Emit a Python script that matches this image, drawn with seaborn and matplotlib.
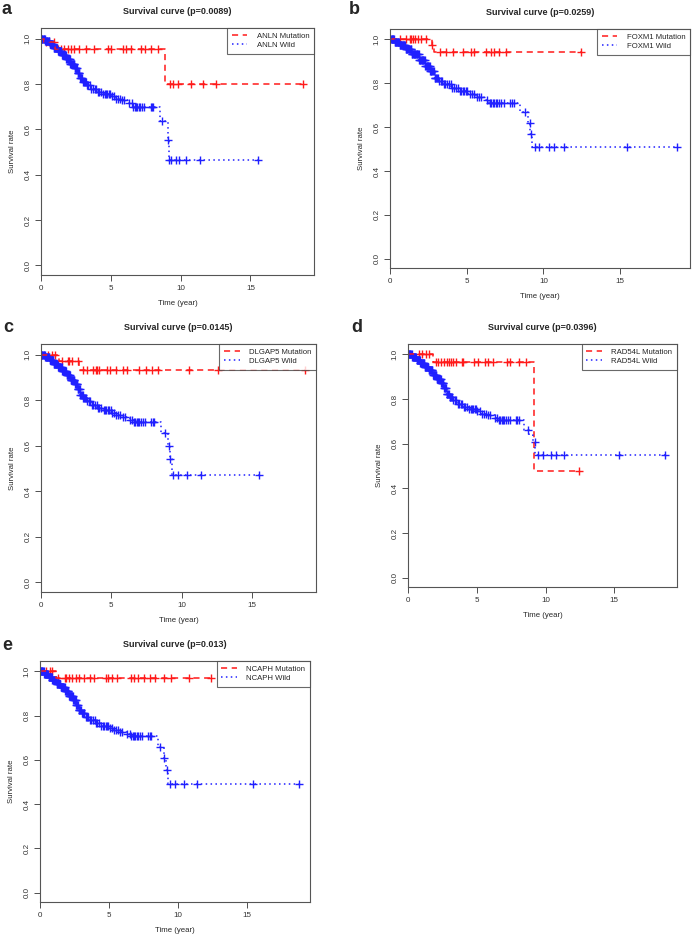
import numpy as np
import pandas as pd
import matplotlib
matplotlib.use('Agg')
import matplotlib.pyplot as plt
import seaborn as sns

sns.set_style('ticks')
plt.rcParams['font.family'] = ['Liberation Sans', 'DejaVu Sans']

# Panel info
letters = ['a', 'b', 'c', 'd', 'e']
genes = ['ANLN', 'FOXM1', 'DLGAP5', 'RAD54L', 'NCAPH']
p_values = ['0.0089', '0.0259', '0.0145', '0.0396', '0.013']

# Wild group: step curves (time in years, survival rate)
wild_t = [
    [0, 0.3, 0.6, 0.9, 1.2, 1.5, 1.8, 2.1, 2.4, 2.6, 2.8, 3.0, 3.3, 3.6, 4.0, 4.4, 5.0, 5.3, 5.8, 6.3, 6.6, 8.5, 9.1, 9.2, 15.55],
    [0, 0.3, 0.6, 1.0, 1.4, 1.9, 2.3, 2.6, 2.9, 3.2, 3.5, 4.0, 4.5, 5.1, 5.6, 6.1, 6.45, 8.5, 9.0, 9.15, 9.25, 18.7],
    [0, 0.3, 0.6, 0.9, 1.2, 1.5, 1.8, 2.1, 2.4, 2.6, 2.8, 3.0, 3.3, 3.6, 4.0, 4.4, 5.0, 5.3, 5.8, 6.3, 6.6, 8.5, 9.0, 9.15, 9.3, 15.5],
    [0, 0.3, 0.6, 0.9, 1.2, 1.5, 1.8, 2.1, 2.4, 2.6, 2.8, 3.0, 3.3, 3.6, 4.0, 4.4, 5.0, 5.3, 5.8, 6.3, 6.6, 8.45, 8.8, 9.1, 9.25, 18.7],
    [0, 0.3, 0.6, 0.9, 1.2, 1.5, 1.8, 2.1, 2.4, 2.6, 2.8, 3.0, 3.3, 3.6, 4.0, 4.4, 5.0, 5.3, 5.8, 6.3, 6.6, 8.55, 8.95, 9.1, 9.25, 18.75],
]
wild_s = [
    [1.0, 0.99, 0.975, 0.96, 0.945, 0.93, 0.91, 0.89, 0.87, 0.85, 0.825, 0.81, 0.795, 0.78, 0.765, 0.755, 0.745, 0.735, 0.728, 0.715, 0.70, 0.636, 0.555, 0.464, 0.464],
    [1.0, 0.99, 0.975, 0.955, 0.935, 0.905, 0.88, 0.855, 0.825, 0.81, 0.795, 0.78, 0.765, 0.75, 0.738, 0.725, 0.71, 0.667, 0.618, 0.57, 0.51, 0.51],
    [1.0, 0.99, 0.975, 0.96, 0.945, 0.93, 0.91, 0.89, 0.87, 0.85, 0.825, 0.81, 0.795, 0.78, 0.765, 0.755, 0.745, 0.735, 0.728, 0.715, 0.705, 0.654, 0.60, 0.54, 0.473, 0.473],
    [1.0, 0.99, 0.975, 0.96, 0.945, 0.93, 0.91, 0.89, 0.87, 0.85, 0.825, 0.81, 0.795, 0.78, 0.765, 0.755, 0.745, 0.735, 0.728, 0.715, 0.708, 0.66, 0.64, 0.61, 0.55, 0.55],
    [1.0, 0.99, 0.975, 0.96, 0.945, 0.93, 0.91, 0.89, 0.87, 0.85, 0.825, 0.81, 0.795, 0.78, 0.765, 0.755, 0.745, 0.735, 0.728, 0.715, 0.707, 0.66, 0.61, 0.555, 0.49, 0.49],
]

# Wild group censor times, shared early part + per-panel late part
wild_cens_early = [0.03, 0.07, 0.1, 0.14, 0.18, 0.22, 0.26, 0.3, 0.34, 0.38, 0.42, 0.46, 0.5, 0.54, 0.58,
                   0.62, 0.66, 0.7, 0.74, 0.78, 0.82, 0.86, 0.9, 0.94, 0.98, 1.02, 1.06, 1.1, 1.14, 1.18,
                   1.22, 1.26, 1.3, 1.34, 1.38, 1.42, 1.46, 1.5, 1.54, 1.58, 1.62, 1.66, 1.7, 1.74, 1.78,
                   1.82, 1.86, 1.9, 1.94, 1.98, 2.02, 2.06, 2.1, 2.14, 2.18, 2.22, 2.26, 2.3, 2.34, 2.38,
                   2.42, 2.46, 2.5, 2.54, 2.58, 2.62, 2.66, 2.7, 2.75, 2.8, 2.85, 2.9, 2.96, 3.02, 3.08,
                   3.15, 3.22, 3.3, 3.4, 3.5, 3.6, 3.72, 3.85, 3.95, 4.05, 4.15, 4.3, 4.45, 4.55, 4.65, 4.75,
                   4.85, 4.95, 5.05, 5.2, 5.35, 5.5, 5.65, 5.8, 5.95, 6.3, 6.5, 6.6, 6.7, 6.8, 6.9, 7.0,
                   7.1, 7.25, 7.4, 7.85, 7.95, 8.05]
wild_cens_late = [
    [8.7, 9.1, 9.2, 9.33, 9.7, 9.88, 10.4, 11.36, 15.55],
    [8.8, 9.1, 9.18, 9.46, 9.72, 10.37, 10.7, 11.35, 15.44, 18.7],
    [8.8, 9.1, 9.2, 9.4, 9.76, 10.4, 11.35, 15.5],
    [8.72, 9.2, 9.45, 9.8, 10.4, 10.77, 11.37, 15.35, 18.7],
    [8.7, 9.0, 9.2, 9.44, 9.8, 10.4, 11.38, 15.45, 18.75],
]

# Mutation group: step curves
mut_t = [
    [0, 0.25, 1.0, 8.9, 18.8],
    [0, 2.75, 2.85, 12.5],
    [0, 1.25, 2.7, 18.75],
    [0, 1.8, 9.13, 12.45],
    [0, 1.15, 12.4],
]
mut_s = [
    [1.0, 0.985, 0.953, 0.798, 0.798],
    [1.0, 0.973, 0.943, 0.943],
    [1.0, 0.971, 0.933, 0.933],
    [1.0, 0.966, 0.476, 0.476],
    [1.0, 0.97, 0.97],
]
mut_cens = [
    [0.36, 0.6, 0.96, 1.2, 1.44, 1.67, 1.91, 2.15, 2.39, 2.75, 3.23, 3.83, 4.78, 5.02, 5.86, 6.1, 6.46,
     7.18, 7.42, 7.9, 8.37, 9.21, 9.45, 9.81, 10.77, 11.6, 12.56, 18.78],
    [0.65, 1.07, 1.29, 1.4, 1.5, 1.61, 1.83, 2.04, 2.37, 2.76, 3.23, 3.66, 4.09, 4.73, 5.27, 5.48, 6.24,
     6.56, 6.77, 7.1, 7.53, 12.47],
    [0.5, 0.8, 1.0, 1.5, 1.9, 2.0, 2.2, 2.6, 3.0, 3.3, 3.7, 3.9, 4.0, 4.1, 4.7, 4.9, 5.3, 5.8, 6.1,
     7.0, 7.5, 7.9, 8.3, 10.5, 12.6, 18.75],
    [0.8, 1.0, 1.3, 1.5, 2.0, 2.2, 2.4, 2.6, 2.8, 3.0, 3.1, 3.3, 3.5, 3.9, 4.0, 4.8, 5.1, 5.6, 5.8,
     6.2, 7.2, 7.4, 8.1, 8.6, 12.45],
    [0.4, 0.7, 0.9, 1.3, 1.8, 1.9, 2.1, 2.3, 2.6, 2.8, 3.2, 3.6, 3.9, 4.8, 4.9, 5.2, 5.6, 6.6, 6.8,
     7.1, 7.5, 8.0, 8.3, 9.0, 9.5, 10.8, 12.4],
]

# axes boxes in pixels: left, right, top, bottom
boxes = [(41, 314, 28, 275), (390, 690, 29, 268), (41, 316, 344, 592),
         (408, 677, 344, 587), (40, 310, 661, 902)]
letter_pos = [(1, 10), (349, 10), (3, 327), (351, 327), (2, 645)]

W, H = 694, 940
fig = plt.figure(figsize=(W / 100, H / 100), dpi=100)


def step_value(times, surv, t):
    idx = np.searchsorted(times, t, side='right') - 1
    return np.asarray(surv)[idx]


for i in range(5):
    l, r, t, b = boxes[i]
    ax = fig.add_axes([l / W, 1 - b / H, (r - l) / W, (b - t) / H])

    mut = pd.DataFrame({'time': mut_t[i], 'surv': mut_s[i]})
    wild = pd.DataFrame({'time': wild_t[i], 'surv': wild_s[i]})

    sns.lineplot(data=mut, x='time', y='surv', ax=ax, color='#ff1a1a', estimator=None, sort=False,
                 drawstyle='steps-post', linestyle=(0, (4, 3)), linewidth=1.1,
                 label=f'{genes[i]} Mutation')
    sns.lineplot(data=wild, x='time', y='surv', ax=ax, color='#2020ff', estimator=None, sort=False,
                 drawstyle='steps-post', linestyle=(0, (1, 2.2)), linewidth=1.1,
                 label=f'{genes[i]} Wild')

    # censor marks
    mc = np.array(mut_cens[i])
    sns.scatterplot(x=mc, y=step_value(mut_t[i], mut_s[i], mc), ax=ax, marker='+',
                    color='#ff1a1a', s=34, linewidth=1.0, legend=False)
    wc = np.array(wild_cens_early + wild_cens_late[i])
    sns.scatterplot(x=wc, y=step_value(wild_t[i], wild_s[i], wc), ax=ax, marker='+',
                    color='#2020ff', s=34, linewidth=1.0, legend=False)

    ax.set_xlim(0, 19.55)
    ax.set_ylim(-0.042, 1.047)
    ax.set_xticks([0, 5, 10, 15])
    ax.set_yticks([0.0, 0.2, 0.4, 0.6, 0.8, 1.0])
    ax.set_yticklabels(['0.0', '0.2', '0.4', '0.6', '0.8', '1.0'], rotation=90, va='center')
    ax.tick_params(labelsize=5.8, length=4.5, width=0.6, colors='#333333', pad=2.5)
    for sp in ax.spines.values():
        sp.set_visible(True)
        sp.set_color('#555555')
        sp.set_linewidth(0.8)

    ax.set_xlabel('Time (year)', fontsize=5.6, labelpad=6)
    ax.set_ylabel('Survival rate', fontsize=5.6, labelpad=6)
    ax.set_title(f'Survival curve (p={p_values[i]})', fontsize=6.5, fontweight='bold', pad=10)

    leg = ax.legend(loc='upper right', borderaxespad=0, fontsize=5.6, frameon=True, fancybox=False,
                    handlelength=2.0, handletextpad=1.2, borderpad=0.6, labelspacing=0.2)
    leg.get_frame().set_edgecolor('#444444')
    leg.get_frame().set_linewidth(0.8)

    lx, ly = letter_pos[i]
    fig.text(lx / W, 1 - ly / H, letters[i], fontsize=13, fontweight='bold', va='center', ha='left',
             family=['Liberation Sans', 'DejaVu Sans'])

fig.savefig('out.png', dpi=100)
